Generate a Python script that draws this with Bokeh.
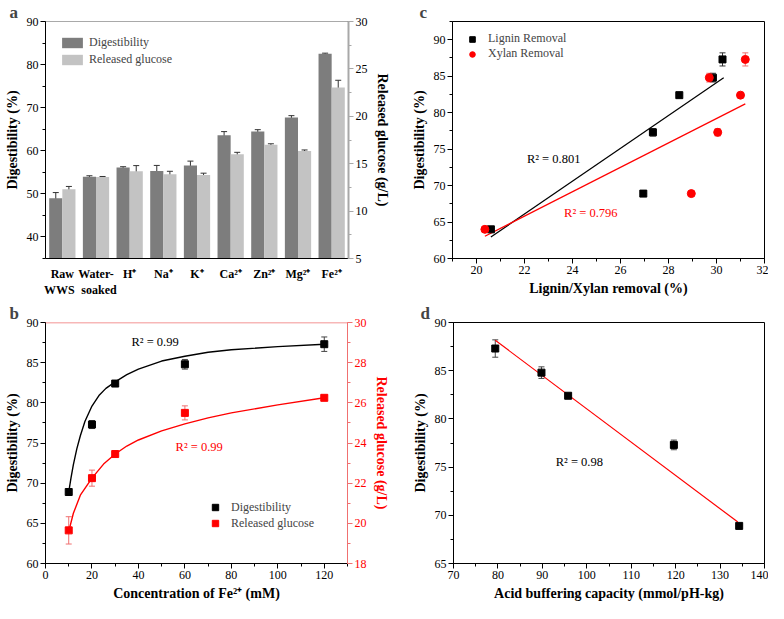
from bokeh.plotting import figure
from bokeh.models import (Range1d, FactorRange, LinearAxis, SingleIntervalTicker,
                          Whisker, ColumnDataSource, Legend, LegendItem, Label, Span, TeeHead)
from bokeh.transform import dodge
from bokeh.layouts import row, column
from bokeh.embed import file_html
from bokeh.resources import INLINE

FONT = "Liberation Serif"
RED = "#ff0000"
LRED = "#f07070"

# ---------------- Panel a data ----------------
cats_a = ["Raw\nWWS\u00a0\u00a0", "Water-\n\u00a0\u00a0soaked", "H\u207a", "Na\u207a", "K\u207a",
          "Ca\u00b2\u207a", "Zn\u00b2\u207a", "Mg\u00b2\u207a", "Fe\u00b2\u207a"]
dig_a = [49.0, 54.0, 56.1, 55.3, 56.6, 63.6, 64.5, 67.7, 82.5]
dig_a_err = [1.3, 0.2, 0.2, 1.3, 1.0, 0.85, 0.4, 0.45, 0.15]
glu_a = [12.3, 13.6, 14.2, 13.9, 13.8, 16.0, 17.0, 16.35, 23.05]
glu_a_err = [0.3, 0.05, 0.6, 0.3, 0.2, 0.2, 0.1, 0.1, 0.75]

# ---------------- Panel b data ----------------
fe_conc = [10, 20, 30, 60, 120]
dig_b = [68.9, 77.3, 82.4, 84.8, 87.3]
dig_b_err = [0.0, 0.5, 0.0, 0.6, 0.9]
glu_b = [19.65, 22.25, 23.45, 25.5, 26.25]
glu_b_err = [0.68, 0.4, 0.0, 0.35, 0.1]
fit_b_x = [10, 11, 12, 13.5, 15, 17, 20, 23, 26, 30, 35, 40, 50, 60, 70, 80, 100, 120]
fit_b_dig = [68.9, 70.7, 72.3, 74.3, 75.9, 77.7, 79.6, 80.9, 81.8, 82.6, 83.5, 84.2,
             85.2, 85.8, 86.3, 86.6, 87.0, 87.3]
fit_b_glu_x = [10, 12, 15, 20, 25, 30, 35, 40, 50, 60, 70, 80, 100, 120]
fit_b_glu = [19.6, 20.5, 21.4, 22.25, 22.95, 23.45, 23.85, 24.15, 24.6, 24.95, 25.25,
             25.5, 25.9, 26.25]

# ---------------- Panel c data ----------------
lignin_x = [20.6, 26.95, 27.35, 28.45, 29.85, 30.25]
xylan_x = [20.35, 28.95, 30.05, 29.7, 31.0, 31.2]
dig_c = [64.0, 68.9, 77.3, 82.4, 84.8, 87.3]
dig_c_x = [64.0, 68.9, 77.3, 84.8, 82.4, 87.3]
dig_c_err = [0.0, 0.0, 0.5, 0.0, 0.6, 0.9]
dig_c_x_err = [0.0, 0.0, 0.5, 0.6, 0.0, 0.9]
fit_lig_x = [20.6, 30.3]
fit_lig_y = [62.95, 84.8]
fit_xyl_x = [20.35, 31.2]
fit_xyl_y = [63.05, 81.2]

# ---------------- Panel d data ----------------
abc = [79.4, 89.8, 95.8, 119.6, 134.3]
dig_d = [87.3, 84.8, 82.4, 77.3, 68.9]
dig_d_err = [0.9, 0.6, 0.0, 0.5, 0.0]
fit_d_x = [79.4, 134.0]
fit_d_y = [88.15, 69.3]


def style_axis(ax, color="black", tick_size="12px"):
    ax.major_label_text_font = FONT
    ax.major_label_text_font_size = tick_size
    ax.major_label_text_color = color
    ax.axis_label_text_font = FONT
    ax.axis_label_text_font_size = "14px"
    ax.axis_label_text_font_style = "bold"
    ax.axis_label_text_color = color
    ax.axis_line_color = color
    ax.major_tick_line_color = color
    ax.minor_tick_line_color = color
    ax.major_tick_in = 0
    ax.major_tick_out = 5
    ax.minor_tick_in = 0
    ax.minor_tick_out = 3
    ax.major_label_standoff = 2
    ax.axis_label_standoff = 4


def flip_label(ax):
    try:
        ax.axis_label_orientation = "vertical"
    except Exception:
        pass


def base_fig(w, h, left, right, top, bottom, **kw):
    p = figure(width=w, height=h, output_backend="svg", toolbar_location=None,
               min_border_left=left, min_border_right=right,
               min_border_top=top, min_border_bottom=bottom, **kw)
    p.grid.visible = False
    p.background_fill_color = "white"
    p.border_fill_color = "white"
    return p


def letter_title(p, txt, xo):
    p.title.text = txt
    p.title.text_font = FONT
    p.title.text_font_size = "17px"
    p.title.text_font_style = "bold"
    p.title.align = "left"
    p.title.offset = xo
    p.title.standoff = 0


def whisk(p, src, base, up, lo, color, yname="default"):
    w = Whisker(base=base, upper=up, lower=lo, source=src, line_color=color, line_width=1,
                upper_head=TeeHead(size=6, line_color=color, line_width=1),
                lower_head=TeeHead(size=6, line_color=color, line_width=1),
                y_range_name=yname)
    p.add_layout(w)


def rlabel(p, x, y, txt, color):
    p.add_layout(Label(x=x, y=y, text=txt, text_font=FONT, text_font_size="12.5px",
                       text_color=color, text_baseline="middle"))


# ================= Panel a =================
pa = base_fig(392, 300, 45, 39, 15, 36,
              x_range=FactorRange(factors=cats_a, range_padding=0),
              y_range=Range1d(35, 90))
pa.outline_line_color = None
pa.extra_y_ranges = {"glu": Range1d(5, 30)}
src_a = ColumnDataSource(dict(
    cat=cats_a, dig=dig_a, glu=glu_a,
    du=[v + e for v, e in zip(dig_a, dig_a_err)], dl=[v - e for v, e in zip(dig_a, dig_a_err)],
    gu=[v + e for v, e in zip(glu_a, glu_a_err)], gl=[v - e for v, e in zip(glu_a, glu_a_err)]))
r1 = pa.vbar(x=dodge("cat", -0.195, range=pa.x_range), top="dig", bottom=35, width=0.39,
             source=src_a, fill_color="#7d7d7d", line_color=None)
r2 = pa.vbar(x=dodge("cat", 0.195, range=pa.x_range), top="glu", bottom=5, width=0.39,
             source=src_a, fill_color="#c3c3c3", line_color=None, y_range_name="glu")
whisk(pa, src_a, dodge("cat", -0.195, range=pa.x_range), "du", "dl", "#333333")
whisk(pa, src_a, dodge("cat", 0.195, range=pa.x_range), "gu", "gl", "#333333", "glu")
pa.yaxis.ticker = SingleIntervalTicker(interval=10, num_minor_ticks=2)
pa.yaxis.axis_label = "Digestibility (%)"
style_axis(pa.yaxis[0])
style_axis(pa.xaxis[0])
pa.xaxis.major_tick_line_color = None
pa.xaxis.major_tick_out = 0
pa.xaxis.major_label_text_font_style = "bold"
pa.xaxis.major_label_standoff = 8
ra = LinearAxis(y_range_name="glu", axis_label="Released glucose (g/L)",
                ticker=SingleIntervalTicker(interval=5, num_minor_ticks=2))
style_axis(ra, "black")
ra.axis_line_color = "#a8a8a8"
ra.axis_line_width = 2
ra.major_tick_line_color = "#a8a8a8"
ra.minor_tick_line_color = "#a8a8a8"
flip_label(ra)
pa.add_layout(ra, "right")
pa.add_layout(Span(location=90, dimension="width", line_color="#555555", line_width=1))
leg_a = Legend(items=[LegendItem(label="Digestibility", renderers=[r1]),
                      LegendItem(label="Released glucose", renderers=[r2])],
               location="top_left", margin=14, padding=0, spacing=2,
               glyph_width=26, glyph_height=13, label_height=13,
               label_text_font=FONT, label_text_font_size="12px",
               border_line_color=None, background_fill_alpha=0, label_standoff=4)
pa.add_layout(leg_a)
letter_title(pa, "a", -36)

# ================= Panel c =================
pc = base_fig(376, 300, 60, 4, 15, 36, x_range=Range1d(19, 32), y_range=Range1d(60, 92.5))
pc.outline_line_color = "black"
pc.outline_line_width = 1
src_c = ColumnDataSource(dict(
    lx=lignin_x, ly=dig_c,
    lu=[v + e for v, e in zip(dig_c, dig_c_err)], ll=[v - e for v, e in zip(dig_c, dig_c_err)]))
src_cx = ColumnDataSource(dict(
    xx=xylan_x, xy=dig_c_x,
    xu=[v + e for v, e in zip(dig_c_x, dig_c_x_err)], xl=[v - e for v, e in zip(dig_c_x, dig_c_x_err)]))
pc.line(fit_lig_x, fit_lig_y, line_color="black", line_width=1.2)
pc.line(fit_xyl_x, fit_xyl_y, line_color=RED, line_width=1.2)
whisk(pc, src_c, "lx", "lu", "ll", "#333333")
whisk(pc, src_cx, "xx", "xu", "xl", LRED)
rc1 = pc.scatter("lx", "ly", source=src_c, marker="square", size=7, fill_color="black", line_color="black")
rc2 = pc.scatter("xx", "xy", source=src_cx, marker="circle", size=8, fill_color=RED, line_color=RED)
pc.xaxis.ticker = SingleIntervalTicker(interval=2, num_minor_ticks=2)
pc.yaxis.ticker = SingleIntervalTicker(interval=5, num_minor_ticks=2)
pc.xaxis.axis_label = "Lignin/Xylan removal (%)"
pc.yaxis.axis_label = "Digestibility (%)"
style_axis(pc.xaxis[0])
style_axis(pc.yaxis[0])
leg_c = Legend(items=[LegendItem(label="Lignin Removal", renderers=[rc1]),
                      LegendItem(label="Xylan Removal", renderers=[rc2])],
               location="top_left", margin=10, padding=0, spacing=0,
               glyph_width=20, glyph_height=14, label_height=14,
               label_text_font=FONT, label_text_font_size="12px",
               border_line_color=None, background_fill_alpha=0, label_standoff=6)
pc.add_layout(leg_c)
rlabel(pc, 22.1, 73.6, "R\u00b2 = 0.801", "black")
rlabel(pc, 23.65, 66.3, "R\u00b2 = 0.796", RED)
letter_title(pc, "c", -33)

# ================= Panel b =================
pb = base_fig(392, 303, 45, 45, 22, 39, x_range=Range1d(0, 130), y_range=Range1d(60, 90))
pb.outline_line_color = None
pb.extra_y_ranges = {"glu": Range1d(18, 30)}
src_b = ColumnDataSource(dict(
    x=fe_conc, d=dig_b, g=glu_b,
    du=[v + e for v, e in zip(dig_b, dig_b_err)], dl=[v - e for v, e in zip(dig_b, dig_b_err)],
    gu=[v + e for v, e in zip(glu_b, glu_b_err)], gl=[v - e for v, e in zip(glu_b, glu_b_err)]))
pb.line(fit_b_x, fit_b_dig, line_color="black", line_width=1.4)
pb.line(fit_b_glu_x, fit_b_glu, line_color=RED, line_width=1.4, y_range_name="glu")
whisk(pb, src_b, "x", "du", "dl", "#444444")
whisk(pb, src_b, "x", "gu", "gl", LRED, "glu")
rb1 = pb.scatter("x", "d", source=src_b, marker="square", size=7, fill_color="black", line_color="black")
rb2 = pb.scatter("x", "g", source=src_b, marker="square", size=7, fill_color=RED, line_color=RED,
                 y_range_name="glu")
pb.xaxis.ticker = SingleIntervalTicker(interval=20, num_minor_ticks=2)
pb.yaxis.ticker = SingleIntervalTicker(interval=5, num_minor_ticks=2)
pb.xaxis.axis_label = "Concentration of Fe\u00b2\u207a (mM)"
pb.yaxis.axis_label = "Digestibility (%)"
style_axis(pb.xaxis[0])
style_axis(pb.yaxis[0])
rb = LinearAxis(y_range_name="glu", axis_label="Released glucose (g/L)",
                ticker=SingleIntervalTicker(interval=2, num_minor_ticks=2))
style_axis(rb, RED)
rb.axis_line_color = LRED
rb.major_tick_line_color = LRED
rb.minor_tick_line_color = LRED
flip_label(rb)
pb.add_layout(rb, "right")
pb.add_layout(Span(location=90, dimension="width", line_color=LRED, line_width=1.5))
leg_b = Legend(items=[LegendItem(label="Digestibility", renderers=[rb1]),
                      LegendItem(label="Released glucose", renderers=[rb2])],
               location=(160, 32), margin=0, padding=0, spacing=0,
               glyph_width=20, glyph_height=16, label_height=16,
               label_text_font=FONT, label_text_font_size="12px",
               border_line_color=None, background_fill_alpha=0, label_standoff=6)
pb.add_layout(leg_b)
rlabel(pb, 37, 87.6, "R\u00b2 = 0.99", "black")
rlabel(pb, 56, 74.5, "R\u00b2 = 0.99", RED)
letter_title(pb, "b", -36)

# ================= Panel d =================
pd_ = base_fig(376, 303, 61, 4, 20, 35, x_range=Range1d(70, 140), y_range=Range1d(65, 90))
pd_.outline_line_color = "black"
pd_.outline_line_width = 1
src_d = ColumnDataSource(dict(
    x=abc, y=dig_d,
    u=[v + e for v, e in zip(dig_d, dig_d_err)], l=[v - e for v, e in zip(dig_d, dig_d_err)]))
pd_.line(fit_d_x, fit_d_y, line_color=RED, line_width=1.2)
whisk(pd_, src_d, "x", "u", "l", "#444444")
pd_.scatter("x", "y", source=src_d, marker="square", size=7, fill_color="black", line_color="black")
pd_.xaxis.ticker = SingleIntervalTicker(interval=10, num_minor_ticks=2)
pd_.yaxis.ticker = SingleIntervalTicker(interval=5, num_minor_ticks=2)
pd_.xaxis.axis_label = "Acid buffering capacity (mmol/pH-kg)"
pd_.yaxis.axis_label = "Digestibility (%)"
style_axis(pd_.xaxis[0])
style_axis(pd_.yaxis[0])
rlabel(pd_, 93, 75.5, "R\u00b2 = 0.98", "black")
letter_title(pd_, "d", -33)

layout = column(row(pa, pc), row(pb, pd_))
with open("out.html", "w") as f:
    f.write(file_html(layout, INLINE))
